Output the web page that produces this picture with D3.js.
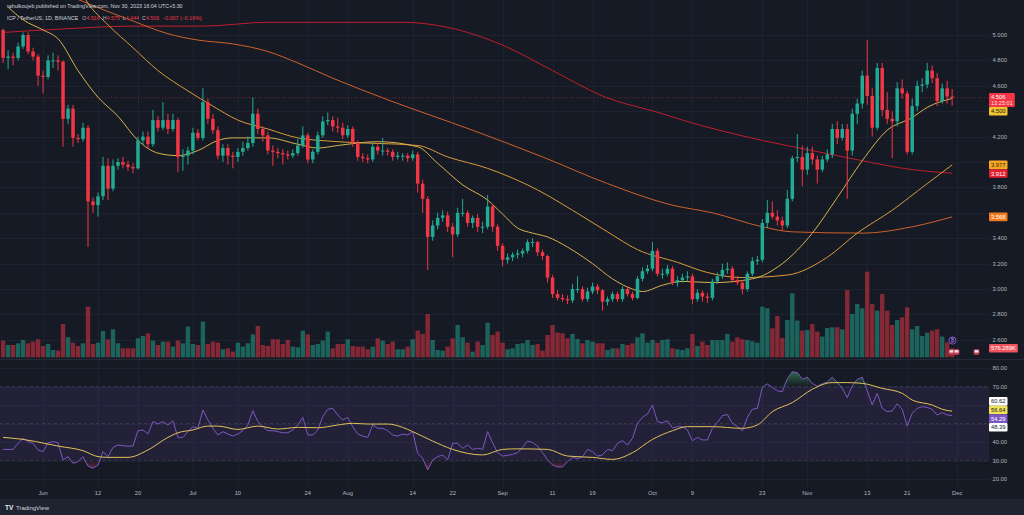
<!DOCTYPE html>
<html><head><meta charset="utf-8">
<script src="https://cdn.jsdelivr.net/npm/d3@7"></script>
<style>html,body{margin:0;padding:0;background:#161a25;}svg{display:block;}</style>
</head><body><svg id="c" width="1024" height="515"></svg>
<script>
// ---------------- DATA ----------------
const startDate = "2023-05-24"; // first daily candle
const opens = [5.04,4.82,4.83,4.82,4.91,5.00,4.87,4.83,4.68,4.67,4.80,4.80,4.79,4.34,4.42,4.19,4.18,4.27,3.69,3.66,
3.73,3.97,3.79,3.97,4.00,3.98,3.96,3.95,4.17,4.20,4.14,4.33,4.27,4.33,4.26,4.33,4.04,4.05,4.09,4.23,
4.19,4.47,4.34,4.25,4.05,4.11,4.05,4.04,4.08,4.11,4.15,4.38,4.26,4.21,4.09,4.08,4.07,4.06,4.05,4.07,
4.13,4.21,4.02,4.08,4.21,4.32,4.33,4.28,4.27,4.21,4.26,4.15,4.04,4.03,4.02,4.12,4.09,4.09,4.08,4.04,
4.05,4.05,4.03,4.06,3.83,3.71,3.41,3.50,3.56,3.58,3.49,3.43,3.60,3.60,3.52,3.56,3.49,3.49,3.65,3.49,
3.34,3.23,3.25,3.27,3.28,3.30,3.37,3.37,3.29,3.26,3.09,2.96,2.93,2.92,2.91,3.00,3.00,2.92,2.98,3.02,
2.99,2.90,2.92,2.96,2.92,3.00,2.96,2.93,3.08,3.14,3.16,3.30,3.12,3.12,3.16,3.05,3.07,3.09,3.10,2.92,
2.97,2.94,2.93,3.06,3.10,3.15,3.16,3.07,3.05,3.00,3.12,3.22,3.23,3.52,3.60,3.57,3.54,3.50,3.71,4.03,
4.04,3.94,4.07,4.02,3.94,4.02,4.06,4.26,4.19,4.26,4.09,4.38,4.46,4.68,4.52,4.27,4.74,4.41,4.34,4.32,
4.58,4.54,4.08,4.44,4.60,4.61,4.72,4.66,4.48,4.58,4.516];
const highs = [5.05,4.88,4.86,4.94,5.02,5.02,4.90,4.85,4.72,4.84,4.86,4.84,4.80,4.45,4.45,4.22,4.31,4.29,3.72,3.76,
4.04,4.03,4.02,4.03,4.04,4.01,3.99,4.20,4.24,4.24,4.41,4.36,4.47,4.38,4.38,4.35,4.10,4.12,4.27,4.26,
4.58,4.50,4.38,4.28,4.14,4.14,4.08,4.11,4.16,4.20,4.51,4.42,4.28,4.24,4.13,4.11,4.10,4.09,4.10,4.18,
4.28,4.23,4.10,4.24,4.36,4.39,4.36,4.35,4.31,4.29,4.28,4.17,4.07,4.06,4.15,4.14,4.19,4.11,4.10,4.08,
4.07,4.07,4.09,4.08,3.86,3.73,3.54,3.60,3.62,3.61,3.52,3.64,3.71,3.62,3.58,3.59,3.53,3.74,3.67,3.51,
3.36,3.28,3.29,3.31,3.32,3.39,3.40,3.38,3.31,3.27,3.11,2.99,2.96,2.95,3.04,3.10,3.02,3.01,3.05,3.04,
3.00,2.94,2.98,2.98,3.02,3.02,2.98,3.10,3.17,3.19,3.37,3.32,3.16,3.19,3.18,3.10,3.12,3.14,3.12,3.00,
2.99,2.97,3.08,3.13,3.20,3.21,3.18,3.10,3.07,3.14,3.25,3.26,3.55,3.70,3.69,3.62,3.57,3.78,4.05,4.22,
4.13,4.12,4.12,4.05,4.05,4.10,4.30,4.32,4.30,4.30,4.42,4.50,4.72,4.96,4.58,4.78,4.78,4.55,4.40,4.63,
4.65,4.56,4.50,4.64,4.66,4.78,4.76,4.70,4.62,4.64,4.575];
const lows = [4.78,4.73,4.76,4.80,4.89,4.85,4.80,4.60,4.54,4.65,4.74,4.72,4.12,4.30,4.12,4.15,4.16,3.33,3.60,3.57,
3.70,3.70,3.77,3.94,3.95,3.93,3.91,3.94,4.14,4.10,4.12,4.24,4.25,4.22,4.24,3.92,3.93,3.98,4.06,4.17,
4.17,4.30,4.22,4.02,4.00,3.98,3.95,4.00,4.05,4.09,4.12,4.22,4.16,4.06,3.97,4.03,3.98,4.02,4.03,4.05,
4.11,3.99,3.99,4.06,4.19,4.29,4.24,4.23,4.18,4.19,4.12,4.01,4.00,3.99,4.00,4.06,4.05,4.05,4.01,4.02,
4.01,4.00,4.01,3.76,3.60,3.15,3.38,3.47,3.53,3.45,3.25,3.41,3.57,3.49,3.48,3.45,3.44,3.47,3.45,3.30,
3.18,3.20,3.22,3.24,3.25,3.28,3.33,3.26,3.23,3.05,2.93,2.91,2.90,2.88,2.89,2.97,2.90,2.90,2.96,2.96,
2.83,2.87,2.90,2.90,2.90,2.94,2.91,2.92,3.06,3.12,3.14,3.10,3.08,3.10,3.03,3.02,3.05,3.06,2.88,2.90,
2.90,2.89,2.91,3.04,3.08,3.12,3.05,3.03,2.96,2.98,3.10,3.19,3.21,3.48,3.55,3.50,3.46,3.48,3.69,4.00,
3.81,3.90,3.98,3.83,3.92,4.00,4.03,4.14,4.17,3.71,4.05,4.30,4.42,4.45,4.20,4.25,4.36,4.30,4.03,4.28,
4.50,4.06,4.06,4.40,4.55,4.58,4.62,4.44,4.46,4.46,4.444];
const closes = [4.82,4.83,4.82,4.91,5.00,4.87,4.83,4.68,4.67,4.80,4.80,4.79,4.34,4.42,4.19,4.18,4.27,3.69,3.66,3.73,
3.97,3.79,3.97,4.00,3.98,3.96,3.95,4.17,4.20,4.14,4.33,4.27,4.33,4.26,4.33,4.04,4.05,4.09,4.23,4.19,
4.47,4.34,4.25,4.05,4.11,4.05,4.04,4.08,4.11,4.15,4.38,4.26,4.21,4.09,4.08,4.07,4.06,4.05,4.07,4.13,
4.21,4.02,4.08,4.21,4.32,4.33,4.28,4.27,4.21,4.26,4.15,4.04,4.03,4.02,4.12,4.09,4.09,4.08,4.04,4.05,
4.05,4.03,4.06,3.83,3.71,3.41,3.50,3.56,3.58,3.49,3.43,3.60,3.60,3.52,3.56,3.49,3.49,3.65,3.49,3.34,
3.23,3.25,3.27,3.28,3.30,3.37,3.37,3.29,3.26,3.09,2.96,2.93,2.92,2.91,3.00,3.00,2.92,2.98,3.02,2.99,
2.90,2.92,2.96,2.92,3.00,2.96,2.93,3.08,3.14,3.16,3.30,3.12,3.12,3.16,3.05,3.07,3.09,3.10,2.92,2.97,
2.94,2.93,3.06,3.10,3.15,3.16,3.07,3.05,3.00,3.12,3.22,3.23,3.52,3.60,3.57,3.54,3.50,3.71,4.03,4.04,
3.94,4.07,4.02,3.94,4.02,4.06,4.26,4.19,4.26,4.09,4.38,4.46,4.68,4.52,4.27,4.74,4.41,4.34,4.32,4.58,
4.54,4.08,4.44,4.60,4.61,4.72,4.66,4.48,4.58,4.516,4.506];
// volume in thousands of ICP
const volumes = [1069,787,787,896,1107,896,1005,1152,723,851,467,429,2131,1280,941,723,896,3245,851,941,
1683,1152,1792,896,576,576,576,1216,1363,1536,1069,787,1005,1005,685,1069,896,1965,851,787,
2285,851,1005,941,512,576,365,941,685,896,1472,2003,787,723,1152,1152,851,1107,685,640,
1709,1472,787,851,1069,1645,576,851,851,1152,723,685,685,512,685,1216,1069,851,1005,512,
512,685,1152,1709,1491,2771,1107,467,429,685,1216,2067,1280,941,365,1005,787,2221,1427,1645,
941,512,576,851,896,1107,787,851,429,1427,2067,1581,1536,1216,1491,1171,896,1107,1005,896,
896,467,576,576,851,787,896,1280,1536,941,1107,941,1107,1152,576,512,467,576,1491,723,
1005,787,1107,1107,1107,1491,1005,1280,1152,1107,1024,941,3245,3136,1856,2643,1235,2387,4096,2349,
1709,1747,2131,1645,1325,1875,1920,1920,1792,4307,2771,3411,3136,5485,3411,2989,4051,2989,2067,2387,
2560,3200,1792,2003,1363,1581,1709,1792,1325,960,576.289];
const rsiValues = [36.0,36.0,36.0,39.3,42.0,40.2,39.3,35.7,34.8,39.6,40.2,39.6,30.3,32.1,28.5,29.4,32.1,27.0,25.8,27.6,
34.8,32.1,37.1,38.4,38.0,37.8,37.8,46.1,46.5,44.3,51.0,49.7,51.0,49.2,51.4,42.5,42.5,45.6,48.3,47.4,
57.3,51.9,47.4,43.8,45.6,44.3,43.2,44.3,46.1,49.2,56.9,51.0,48.3,46.1,46.1,45.6,45.0,45.0,46.5,49.2,
53.3,43.8,43.8,46.5,53.7,57.7,58.2,54.6,51.9,53.3,48.3,44.3,43.2,42.5,49.2,47.4,47.4,46.1,43.8,43.2,
44.3,43.8,45.6,33.9,31.2,24.9,30.3,32.1,33.0,30.3,39.3,39.3,36.6,38.4,36.0,36.6,36.0,45.6,39.6,34.2,
32.4,32.8,33.3,34.2,37.1,40.5,39.8,37.8,34.2,30.3,27.6,26.5,26.5,29.4,31.7,31.0,32.1,36.0,34.8,32.4,
33.0,36.0,35.3,39.3,40.7,38.4,42.0,50.1,53.3,55.1,60.0,51.0,50.3,51.5,47.6,48.3,48.3,46.5,40.7,42.5,
41.1,41.1,47.4,50.6,54.2,54.9,50.1,48.3,46.1,53.3,57.7,58.2,69.5,71.4,69.5,67.7,67.2,74.1,78.0,77.5,
73.9,75.0,71.7,70.1,71.5,72.4,75.0,72.2,69.0,64.0,70.3,73.9,75.0,67.7,60.0,66.3,58.2,56.4,56.8,60.7,
57.7,48.6,55.5,58.2,59.1,58.7,57.7,54.6,55.9,54.6,54.29];
// RSI-based MA, read at sample days (day index from startDate)
const rsiMaDays = [0,4,9,11,16,19,21,25,29,33,35,38,41,43,47,51,55,59,63,67,70,73,77,80,82,86,90,96,100,103,109,113,118,122,126,130,134,137,142,148,151,154,158,162,166,169,172,176,180,182,186,188,190];
const rsiMaValues = [42.5,41.4,38.9,37.8,35.3,32.1,31.7,31.7,35.7,42.5,45.0,46.5,48.6,48.6,46.8,48.6,47.0,47.9,47.7,49.2,50.1,49.7,49.7,47.9,45.6,40.5,36.0,33.0,36.0,36.3,36.0,32.4,31.7,30.6,34.2,41.4,46.1,48.3,48.3,47.4,49.2,56.4,61.3,68.5,72.1,72.1,71.7,69.0,66.3,62.7,60.0,57.7,56.64];
// moving averages on price, read at sample days
const ma20Days = [1,4,8,11,15,19,23,27,31,35,39,43,46,53,59,63,67,75,83,87,92,97,100,103,106,109,113,118,122,126,128,132,136,142,150,156,162,167,172,177,182,185,190];
const ma20Values = [5.22,5.12,5.04,4.97,4.72,4.51,4.36,4.17,4.07,4.05,4.09,4.17,4.19,4.19,4.14,4.11,4.13,4.16,4.12,3.99,3.82,3.70,3.59,3.48,3.44,3.41,3.33,3.20,3.08,3.00,2.98,3.03,3.06,3.05,3.08,3.20,3.44,3.72,4.01,4.25,4.35,4.43,4.50];
const ma50Days = [15,17,21,26,31,37,42,47,53,59,67,83,89,97,107,114,121,127,135,141,148,157,165,171,178,185,190];
const ma50Values = [5.38,5.25,5.08,4.90,4.72,4.56,4.44,4.33,4.26,4.19,4.16,4.13,4.04,3.95,3.78,3.62,3.45,3.31,3.21,3.13,3.09,3.11,3.25,3.44,3.62,3.83,3.977];
const ma100Days = [15,20,26,33,39,46,53,59,66,77,94,108,121,134,142,152,158,172,182,190];
const ma100Values = [5.28,5.20,5.11,5.01,4.96,4.93,4.87,4.78,4.66,4.49,4.25,4.04,3.83,3.66,3.60,3.49,3.45,3.44,3.49,3.568];
const ma200Days = [0,13,26,40,53,67,80,89,100,110,120,132,136,152,162,172,182,190];
const ma200Values = [5.02,5.05,5.07,5.07,5.10,5.10,5.10,5.06,4.92,4.72,4.52,4.38,4.33,4.17,4.09,4.01,3.94,3.912];

const priceTicks = [2.6,2.8,3.0,3.2,3.4,3.6,3.8,4.0,4.2,4.4,4.6,4.8,5.0];
const rsiTicks = [20,30,40,50,60,70,80];
const timeTickDates = ["2023-06-01","2023-06-12","2023-06-20","2023-07-01","2023-07-10","2023-07-24","2023-08-01","2023-08-14","2023-08-22","2023-09-01","2023-09-11","2023-09-19","2023-10-01","2023-10-09","2023-10-23","2023-11-01","2023-11-13","2023-11-21","2023-12-01"];
const timeTickLabels = ["Jun","12","20","Jul","10","24","Aug","14","22","Sep","11","19","Oct","9","23","Nov","13","21","Dec"];

const headerText = "rahulkoujeb published on TradingView.com, Nov 30, 2023 16:04 UTC+5:30";
const symbolText = "ICP / TetherUS, 1D, BINANCE";
const legendKeys = ["O","H","L","C"];
const legendVals = ["4.516","4.575","4.444","4.506"];
const legendChange = "\u22120.007 (\u22120.16%)";
const countdownText = "13:25:01";
const rsiBoxValues = [60.62, 56.64, 54.29, 48.39];
const lastVolumeText = "576.289K";

// ---------------- DRAW ----------------
const W = 1024, H = 515;
const FONT = "'Liberation Sans', Arial, sans-serif";
const UP = "#22ab94", DOWN = "#f23645";
const plotRight = 989;
const mainBottom = 358, rsiTop = 360, rsiBottom = 486;

const svg = d3.select("#c");
const parse = d3.utcParse("%Y-%m-%d");
const t0 = parse(startDate);
const dates = closes.map((_, i) => d3.utcDay.offset(t0, i));
const dayDate = i => d3.utcDay.offset(t0, i);

const x = d3.scaleUtc().domain([t0, d3.utcDay.offset(t0, 191)]).range([3.1, 3.1 + 191 * 4.995]);
const y = d3.scaleLinear().domain([2.6, 5.0]).range([339.8, 35]);
const yVol = d3.scaleLinear().domain([0, 7000]).range([357.3, 357.3 - 7000 / 64]);
const yRsi = d3.scaleLinear().domain([30, 70]).range([460.5, 386.5]);

svg.append("rect").attr("width", W).attr("height", H).attr("fill", "#161a25");

const defs = svg.append("defs");
defs.append("clipPath").attr("id", "clipMain").append("rect").attr("x", 0).attr("y", 0).attr("width", plotRight).attr("height", mainBottom);
defs.append("clipPath").attr("id", "clipRsi").append("rect").attr("x", 0).attr("y", rsiTop).attr("width", plotRight).attr("height", rsiBottom - rsiTop);
const gOB = defs.append("linearGradient").attr("id", "gOB").attr("gradientUnits", "userSpaceOnUse")
  .attr("x1", 0).attr("x2", 0).attr("y1", yRsi(70)).attr("y2", yRsi(82));
gOB.append("stop").attr("offset", 0).attr("stop-color", "#3fbf6a").attr("stop-opacity", 0.0);
gOB.append("stop").attr("offset", 1).attr("stop-color", "#3fbf6a").attr("stop-opacity", 0.75);
const gOS = defs.append("linearGradient").attr("id", "gOS").attr("gradientUnits", "userSpaceOnUse")
  .attr("x1", 0).attr("x2", 0).attr("y1", yRsi(30)).attr("y2", yRsi(22));
gOS.append("stop").attr("offset", 0).attr("stop-color", "#e0405a").attr("stop-opacity", 0.0);
gOS.append("stop").attr("offset", 1).attr("stop-color", "#e0405a").attr("stop-opacity", 0.7);

// grid
const grid = svg.append("g").attr("stroke", "#1d2130").attr("stroke-width", 1);
timeTickDates.forEach(s => {
  const xx = Math.round(x(parse(s))) + 0.5;
  grid.append("line").attr("x1", xx).attr("x2", xx).attr("y1", 0).attr("y2", rsiBottom);
});
priceTicks.forEach(p => {
  const yy = Math.round(y(p)) + 0.5;
  grid.append("line").attr("x1", 0).attr("x2", plotRight).attr("y1", yy).attr("y2", yy);
});
rsiTicks.forEach(v => {
  const yy = Math.round(yRsi(v)) + 0.5;
  grid.append("line").attr("x1", 0).attr("x2", plotRight).attr("y1", yy).attr("y2", yy);
});

// pane separator
svg.append("line").attr("x1", 0).attr("x2", W).attr("y1", 359.5).attr("y2", 359.5).attr("stroke", "#262a36");

// main pane
const gMain = svg.append("g").attr("clip-path", "url(#clipMain)");

// volume
gMain.append("g").selectAll("rect").data(volumes).join("rect")
  .attr("x", (d, i) => x(dates[i]) - 2.2).attr("width", 4.4)
  .attr("y", d => yVol(d)).attr("height", d => yVol(0) - yVol(d))
  .attr("fill", (d, i) => closes[i] >= opens[i] ? "rgba(34,171,148,0.5)" : "rgba(242,54,69,0.5)");

// last price line
gMain.append("line").attr("x1", 0).attr("x2", plotRight)
  .attr("y1", y(closes[closes.length - 1])).attr("y2", y(closes[closes.length - 1]))
  .attr("stroke", DOWN).attr("stroke-opacity", 0.45).attr("stroke-dasharray", "1,2");

// moving averages
const maLine = d3.line().x(d => x(dayDate(d[0]))).y(d => y(d[1])).curve(d3.curveMonotoneX);
const maDefs = [
  [ma200Days, ma200Values, "#c01d2c"],
  [ma100Days, ma100Values, "#d0602a"],
  [ma50Days, ma50Values, "#d99a3a"],
  [ma20Days, ma20Values, "#d8b24c"]
];
maDefs.forEach(([ds, vs, col]) => {
  gMain.append("path").datum(ds.map((d, i) => [d, vs[i]]))
    .attr("d", maLine).attr("fill", "none").attr("stroke", col).attr("stroke-width", 1);
});

// candles
const gC = gMain.append("g");
closes.forEach((c, i) => {
  const o = opens[i], col = c >= o ? UP : DOWN;
  const cx = x(dates[i]);
  gC.append("line").attr("x1", cx).attr("x2", cx).attr("y1", y(highs[i])).attr("y2", y(lows[i]))
    .attr("stroke", col).attr("stroke-width", 1);
  const top = y(Math.max(o, c)), bot = y(Math.min(o, c));
  gC.append("rect").attr("x", cx - 1.75).attr("width", 3.5)
    .attr("y", top).attr("height", Math.max(1, bot - top)).attr("fill", col);
});

// RSI pane
const gR = svg.append("g").attr("clip-path", "url(#clipRsi)");
gR.append("rect").attr("x", 0).attr("width", plotRight).attr("y", yRsi(70)).attr("height", yRsi(30) - yRsi(70))
  .attr("fill", "rgba(126,87,194,0.12)");
[70, 50, 30].forEach(v => {
  gR.append("line").attr("x1", 0).attr("x2", plotRight).attr("y1", yRsi(v)).attr("y2", yRsi(v))
    .attr("stroke", "#787b86").attr("stroke-opacity", 0.25).attr("stroke-dasharray", "3,3");
});
gR.append("path").datum(rsiValues).attr("fill", "url(#gOB)")
  .attr("d", d3.area().x((d, i) => x(dates[i])).y0(yRsi(70)).y1(d => yRsi(Math.max(70, d))));
gR.append("path").datum(rsiValues).attr("fill", "url(#gOS)")
  .attr("d", d3.area().x((d, i) => x(dates[i])).y0(yRsi(30)).y1(d => yRsi(Math.min(30, d))));
gR.append("path").datum(rsiValues).attr("fill", "none").attr("stroke", "#7e57c2").attr("stroke-width", 1)
  .attr("d", d3.line().x((d, i) => x(dates[i])).y(d => yRsi(d)));
gR.append("path").datum(rsiMaDays.map((d, i) => [d, rsiMaValues[i]])).attr("fill", "none")
  .attr("stroke", "#e3c25a").attr("stroke-width", 1)
  .attr("d", d3.line().x(d => x(dayDate(d[0]))).y(d => yRsi(d[1])).curve(d3.curveMonotoneX));

// ---- label boxes (computed first so axis labels under them can be skipped) ----
const occupied = []; // [top, bottom]
function box(g, yc, h, text, bg, fg, extra) {
  const gg = g.append("g");
  const r = gg.append("rect").attr("x", 989).attr("y", yc - h / 2).attr("height", h).attr("rx", 1).attr("fill", bg);
  const t = gg.append("text").attr("x", 991).attr("y", extra ? yc - h / 2 + 6.3 : yc + 2.1)
    .attr("font-family", FONT).attr("font-size", 5.8).attr("fill", fg).text(text);
  let w = t.node().getComputedTextLength();
  if (extra) {
    const t2 = gg.append("text").attr("x", 991).attr("y", yc - h / 2 + 12.3)
      .attr("font-family", FONT).attr("font-size", 5.6).attr("fill", fg).attr("fill-opacity", 0.85).text(extra);
    w = Math.max(w, t2.node().getComputedTextLength());
  }
  r.attr("width", w + 4);
  occupied.push([yc - h / 2, yc + h / 2]);
}
const labG = svg.append("g");
const lastClose = closes[closes.length - 1];
const priceBoxes = [
  {v: lastClose, h: 14, text: d3.format(".3f")(lastClose), bg: "#f23645", fg: "#ffffff", extra: countdownText, anchor: 4.8},
  {v: ma20Values[ma20Values.length - 1], h: 8.6, text: "4.500", bg: "#f2c230", fg: "#131722"},
  {v: ma50Values[ma50Values.length - 1], h: 8.6, text: "3.977", bg: "#f5a626", fg: "#3a2500"},
  {v: ma200Values[ma200Values.length - 1], h: 8.6, text: "3.912", bg: "#e3202f", fg: "#ffffff"},
  {v: ma100Values[ma100Values.length - 1], h: 8.6, text: "3.568", bg: "#f07a1e", fg: "#ffffff"}
].sort((a, b) => b.v - a.v);
let lastBottom = -Infinity;
priceBoxes.forEach(b => {
  let top = y(b.v) - (b.anchor || b.h / 2);
  if (top < lastBottom) top = lastBottom;
  lastBottom = top + b.h;
  box(labG, top + b.h / 2, b.h, b.text, b.bg, b.fg, b.extra);
});
box(labG, yVol(volumes[volumes.length - 1]), 8.6, lastVolumeText, "#f0525e", "#ffffff");

// RSI boxes: cluster-centred
const rsiBoxStyle = [["#ffffff", "#131722"], ["#f0e35a", "#131722"], ["#7e57c2", "#ffffff"], ["#ffffff", "#131722"]];
const hb = 8.6;
const ideal = rsiBoxValues.map(v => yRsi(v));
let clusters = ideal.map((c, i) => ({idx: [i], c: c}));
let merged = true;
while (merged) {
  merged = false;
  for (let k = 0; k < clusters.length - 1; k++) {
    const a = clusters[k], b = clusters[k + 1];
    const aBot = a.c + a.idx.length * hb / 2, bTop = b.c - b.idx.length * hb / 2;
    if (bTop < aBot) {
      const idx = a.idx.concat(b.idx);
      const c = d3.mean(idx.map(i => ideal[i]));
      clusters.splice(k, 2, {idx, c});
      merged = true; break;
    }
  }
}
clusters.forEach(cl => {
  const top = cl.c - cl.idx.length * hb / 2;
  cl.idx.forEach((i, j) => {
    box(labG, top + hb * j + hb / 2, hb, d3.format(".2f")(rsiBoxValues[i]), rsiBoxStyle[i][0], rsiBoxStyle[i][1]);
  });
});
const free = yy => !occupied.some(([a, b]) => yy + 2.6 > a && yy - 2.6 < b);

// axes labels
const axisG = svg.insert("g", () => labG.node()).attr("font-family", FONT).attr("font-size", 5.8).attr("fill", "#b2b5be");
priceTicks.forEach(p => {
  if (free(y(p))) axisG.append("text").attr("x", 992.5).attr("y", y(p) + 2).text(d3.format(".3f")(p));
});
rsiTicks.forEach(v => {
  if (free(yRsi(v))) axisG.append("text").attr("x", 992.5).attr("y", yRsi(v) + 2).text(d3.format(".2f")(v));
});
timeTickDates.forEach((s, i) => {
  axisG.append("text").attr("x", x(parse(s))).attr("y", 494.5).attr("text-anchor", "middle").text(timeTickLabels[i]);
});

// event icons
const ev = svg.append("g");
ev.append("circle").attr("cx", 952.5).attr("cy", 340.5).attr("r", 3.6).attr("fill", "#1b1630").attr("stroke", "#8f5fd6").attr("stroke-width", 0.9);
ev.append("text").attr("x", 952.5).attr("y", 342.4).attr("text-anchor", "middle").attr("font-size", 4.8).attr("font-family", FONT).attr("fill", "#b08ef0").text("\u20bf");
[[948.5, 349], [953.5, 349], [973.5, 349]].forEach(([ex, ey]) => {
  ev.append("rect").attr("x", ex).attr("y", ey).attr("width", 6).attr("height", 6).attr("rx", 2).attr("fill", "#c0394f");
  ev.append("rect").attr("x", ex + 1).attr("y", ey + 1.2).attr("width", 4).attr("height", 2.4).attr("fill", "#dfe6f0");
});

// header and legend
const hdr = svg.append("g").attr("font-family", FONT);
hdr.append("text").attr("x", 7).attr("y", 8).attr("font-size", 5.3).attr("fill", "#d1d4dc").text(headerText);
const leg = hdr.append("text").attr("x", 7).attr("y", 19.5).attr("font-size", 5.3).attr("fill", "#d1d4dc");
leg.append("tspan").text(symbolText);
legendKeys.forEach((k, i) => {
  leg.append("tspan").attr("dx", i === 0 ? 4 : 3).attr("fill", "#b2b5be").text(k);
  leg.append("tspan").attr("fill", DOWN).text(legendVals[i]);
});
leg.append("tspan").attr("dx", 3).attr("fill", DOWN).text(legendChange);

// footer
svg.append("rect").attr("x", 0).attr("y", 499).attr("width", W).attr("height", 16).attr("fill", "#1f2330");
const ft = svg.append("g").attr("font-family", FONT);
ft.append("text").attr("x", 5).attr("y", 509.5).attr("font-size", 6.5).attr("font-weight", "bold").attr("fill", "#e6e8ee").text("TV");
ft.append("text").attr("x", 16).attr("y", 509.5).attr("font-size", 6).attr("fill", "#d1d4dc").text("TradingView");
</script></body></html>
